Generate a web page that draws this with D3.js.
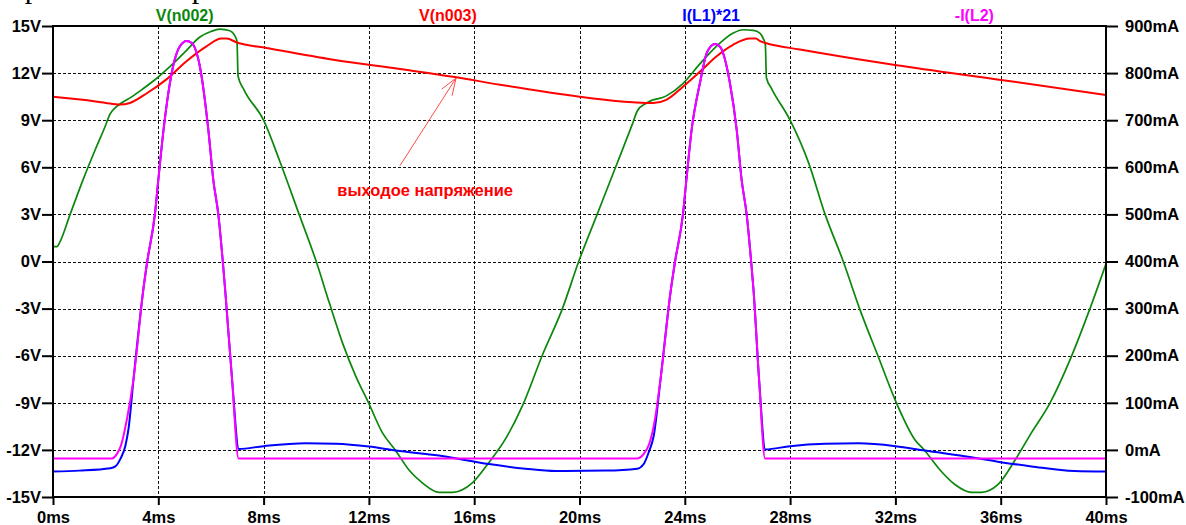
<!DOCTYPE html>
<html>
<head>
<meta charset="utf-8">
<script src="https://cdn.jsdelivr.net/npm/d3@7"></script>
<style>
body { margin: 0; background: #fff; }
text { font-family: "Liberation Sans", Arial, sans-serif; font-weight: bold; }
</style>
</head>
<body>
<div id="chart"></div>
<script>
// axis ticks
var timeTicks = [0, 4, 8, 12, 16, 20, 24, 28, 32, 36, 40];
var voltTicks = [-15, -12, -9, -6, -3, 0, 3, 6, 9, 12, 15];
var currTicks = [-100, 0, 100, 200, 300, 400, 500, 600, 700, 800, 900];

var traceNames = ["V(n002)", "V(n003)", "I(L1)*21", "-I(L2)"];
var traceColors = ["#0b870b", "#ff0000", "#0000ff", "#ff00ff"];

// V(n002), volts, left axis
var n002Time = [0, 0.15, 0.25, 0.65, 1.14, 1.6, 1.98, 2.17, 2.4, 2.6, 3.0, 3.42, 4.0, 4.56, 5.1, 5.58,
  6.0, 6.34, 6.72, 6.9, 6.99, 7.03, 7.25, 8.0, 8.59, 9.35, 10.0, 10.49, 11.0, 11.5, 12.0, 12.51,
  13.02, 13.53, 14.03, 14.66, 15.17, 15.93, 16.56, 17.19, 17.83, 18.58, 19.34, 19.97, 20.67, 21.37,
  22.02, 22.2, 22.55, 23.3, 23.94, 24.58, 25.2, 25.84, 26.22, 26.6, 26.85, 26.98, 27.06, 27.1, 27.3,
  28.0, 28.7, 29.33, 30.02, 30.65, 31.35, 32.05, 32.74, 33.12, 33.63, 34.26, 34.89, 35.27, 35.9,
  36.6, 37.17, 37.86, 38.68, 39.38, 40.0];
var n002Volt = [0.95, 0.95, 1.2, 3.0, 5.2, 7.1, 8.6, 9.4, 9.85, 10.1, 10.5, 11.0, 11.75, 12.6, 13.5, 14.3,
  14.65, 14.8, 14.7, 14.4, 14.0, 11.8, 10.95, 9.0, 6.5, 3.0, 0, -2.6, -5.2, -7.3, -9.05, -10.9,
  -12.05, -13.3, -14.1, -14.7, -14.7, -14.1, -12.8, -11.3, -9.2, -6.0, -3.05, 0, 3.0, 6.0,
  8.8, 9.6, 10.1, 10.55, 11.35, 12.6, 13.7, 14.55, 14.76, 14.72, 14.55, 14.2, 13.8, 11.7, 11.0,
  9.0, 6.3, 3.0, 0, -3.05, -6.07, -9.05, -11.35, -12.05, -13.15, -14.2, -14.7, -14.7, -14.2,
  -12.5, -10.9, -9.05, -6.07, -3.05, -0.15];

// V(n003), volts, left axis
var n003Time = [0, 1.14, 2.0, 2.55, 2.92, 3.55, 4.31, 5.07, 5.83, 6.4, 6.6, 6.98, 8.12, 10.65, 13.18,
  15.27, 16.98, 20.0, 22.03, 22.5, 22.8, 23.3, 23.94, 24.58, 25.2, 25.83, 26.47, 26.7, 26.86, 27.1,
  28.37, 32.05, 36.09, 40.0];
var n003Volt = [10.5, 10.3, 10.1, 10.0, 10.1, 10.7, 11.6, 12.75, 13.7, 14.2, 14.2, 13.95, 13.6, 12.85, 12.26,
  11.75, 11.26, 10.5, 10.14, 10.1, 10.1, 10.3, 11.15, 12.1, 13.06, 13.8, 14.2, 14.2, 14.03, 13.9,
  13.5, 12.5, 11.55, 10.6];

// I(L1)*21, mA, right axis
var iL1Time = [0, 1.0, 2.18, 2.37, 2.56, 2.75, 2.87, 3.06, 3.43, 3.58, 3.87, 4.0, 4.2, 4.56, 4.82, 5.08,
  5.27, 5.58, 5.9, 6.09, 6.28, 6.45, 6.54, 6.8, 7.06, 8.0, 9.6, 10.74, 12.0, 13.02, 14.66, 16.56,
  17.95, 19.09, 20.99, 22.19, 22.44, 22.63, 22.82, 23.08, 23.47, 23.63, 23.93, 24.06, 24.26, 24.58,
  24.85, 25.15, 25.35, 25.71, 25.97, 26.16, 26.35, 26.52, 26.61, 26.82, 27.06, 28.0, 29.33, 30.6,
  32.0, 33.12, 34.89, 36.0, 37.17, 38.8, 40.0];
var iL1Curr = [-46, -44, -39, -35, -19, 9, 45, 151, 340, 400, 500, 573, 680, 814, 857, 868,
  864, 814, 680, 573, 500, 400, 340, 151, 2, 8, 14, 13, 7, -1.4, -12, -30,
  -40, -45, -44, -40, -30, -5, 30, 151, 340, 400, 500, 573, 680, 780,
  845, 862, 855, 780, 680, 573, 500, 400, 340, 151, 1, 8, 13, 14,
  8, -1.4, -15.6, -26, -35, -45, -46];

// -I(L2), mA, right axis
var iL2Time = [0, 2.24, 2.43, 2.58, 2.81, 3.06, 3.43, 3.58, 3.87, 4.0, 4.2, 4.56, 4.82, 5.08,
  5.27, 5.58, 5.9, 6.09, 6.28, 6.45, 6.54, 6.8, 7.05, 22.2, 22.44, 22.65, 22.87, 23.08, 23.47,
  23.63, 23.93, 24.06, 24.26, 24.58, 24.85, 25.15, 25.35, 25.71, 25.97, 26.16, 26.35, 26.52,
  26.61, 26.82, 27.05, 40.0];
var iL2Curr = [-18, -18, -8.5, 9, 66, 151, 340, 400, 500, 573, 680, 814, 857, 868,
  864, 814, 680, 573, 500, 400, 340, 151, -18, -18, -8.5, 13, 66, 151, 340,
  400, 500, 573, 680, 780, 845, 862, 855, 780, 680, 573, 500, 400,
  340, 151, -18, -18];

// annotation (ms, V)
var noteText = "выходое напряжение";
var noteAt = [10.8, 4.2];
var arrowFrom = [13.18, 6.1];
var arrowTo = [15.31, 11.68];

function zip(a, b) {
  var arr = [];
  for (var i = 0; i < a.length; i++) {
    arr.push([a[i], b[i]]);
  }
  return arr;
}

function drawChart() {
  var width = 1186,
    height = 525,
    left = 53, right = 1106, top = 26, bottom = 497;

  var x = d3.scaleLinear().domain([0, 40]).range([left, right]);
  var yV = d3.scaleLinear().domain([-15, 15]).range([bottom, top]);
  var yI = d3.scaleLinear().domain([-100, 900]).range([bottom, top]);

  var svg = d3.select("#chart").append("svg")
    .attr("width", width)
    .attr("height", height)
    .style("background", "#fff");

  // bits of the text line above the picture, cut off in the original too
  svg.selectAll("text.cut")
    .data([24.7, 191.7])
    .enter().append("text")
      .attr("class", "cut")
      .attr("x", function(d) { return d; })
      .attr("y", -2)
      .style("font-family", "'Liberation Serif', 'Times New Roman', serif")
      .style("font-weight", "normal")
      .style("font-size", "30px")
      .text("р");

  // grid
  svg.append("g")
    .selectAll("line")
    .data(timeTicks.slice(1, -1))
    .enter().append("line")
      .attr("x1", function(d) { return Math.round(x(d)) + 0.5; })
      .attr("x2", function(d) { return Math.round(x(d)) + 0.5; })
      .attr("y1", top)
      .attr("y2", bottom)
      .style("stroke", "#111")
      .style("stroke-dasharray", "3,2");

  svg.append("g")
    .selectAll("line")
    .data(voltTicks.slice(1, -1))
    .enter().append("line")
      .attr("x1", left)
      .attr("x2", right)
      .attr("y1", function(d) { return Math.round(yV(d)) + 0.5; })
      .attr("y2", function(d) { return Math.round(yV(d)) + 0.5; })
      .style("stroke", "#111")
      .style("stroke-dasharray", "3,2");

  // axes
  var axisL = svg.append("g")
    .attr("transform", "translate(" + left + ",0)")
    .call(d3.axisLeft(yV).tickValues(voltTicks).tickSize(11).tickPadding(1)
      .tickFormat(function(d) { return d + "V"; }));

  var axisR = svg.append("g")
    .attr("transform", "translate(" + right + ",0)")
    .call(d3.axisRight(yI).tickValues(currTicks).tickSize(12).tickPadding(7)
      .tickFormat(function(d) { return d + "mA"; }));

  var axisB = svg.append("g")
    .attr("transform", "translate(0," + bottom + ")")
    .call(d3.axisBottom(x).tickValues(timeTicks).tickSize(8).tickPadding(6)
      .tickFormat(function(d) { return d + "ms"; }));

  [axisL, axisR, axisB].forEach(function(g) {
    g.select(".domain").remove();
    g.selectAll("line").style("stroke", "#000").style("stroke-width", 2);
    g.selectAll("text")
      .style("font-size", "16.5px")
      .style("font-family", "'Liberation Sans', Arial, sans-serif")
      .style("font-weight", "bold")
      .style("fill", "#000");
  });

  // traces
  svg.append("clipPath").attr("id", "plotClip")
    .append("rect")
      .attr("x", left).attr("y", top)
      .attr("width", right - left).attr("height", bottom - top);

  var lineV = d3.line()
    .x(function(d) { return x(d[0]); })
    .y(function(d) { return yV(d[1]); })
    .curve(d3.curveMonotoneX);
  var lineI = d3.line()
    .x(function(d) { return x(d[0]); })
    .y(function(d) { return yI(d[1]); })
    .curve(d3.curveMonotoneX);

  var traces = [
    {path: lineV(zip(n002Time, n002Volt)), w: 1.7},
    {path: lineV(zip(n003Time, n003Volt)), w: 2},
    {path: lineI(zip(iL1Time, iL1Curr)), w: 2},
    {path: lineI(zip(iL2Time, iL2Curr)), w: 2}
  ];

  var plot = svg.append("g").attr("clip-path", "url(#plotClip)");
  traces.forEach(function(tr, i) {
    plot.append("path")
      .attr("d", tr.path)
      .style("fill", "none")
      .style("stroke", traceColors[i])
      .style("stroke-width", tr.w)
      .style("stroke-linejoin", "round");
  });

  // frame
  svg.append("rect")
    .attr("x", left).attr("y", top)
    .attr("width", right - left).attr("height", bottom - top)
    .style("fill", "none")
    .style("stroke", "#000")
    .style("stroke-width", 2);

  // trace names above the plot
  var slot = (right - left) / traceNames.length;
  svg.selectAll("text.name")
    .data(traceNames)
    .enter().append("text")
      .attr("class", "name")
      .attr("x", function(d, i) { return left + slot * (i + 0.5); })
      .attr("y", 21)
      .attr("text-anchor", "middle")
      .style("font-size", "16px")
      .style("fill", function(d, i) { return traceColors[i]; })
      .text(function(d) { return d; });

  // annotation with arrow
  var x0 = x(arrowFrom[0]), y0 = yV(arrowFrom[1]),
    x1 = x(arrowTo[0]), y1 = yV(arrowTo[1]);
  var ang = Math.atan2(y0 - y1, x0 - x1),
    head = 18, spread = 20 * Math.PI / 180;

  var note = svg.append("g").style("stroke", "#ff4a4a").style("stroke-width", 1).style("fill", "none");
  note.append("line").attr("x1", x0).attr("y1", y0).attr("x2", x1).attr("y2", y1);
  [-spread, spread].forEach(function(s) {
    note.append("line")
      .attr("x1", x1).attr("y1", y1)
      .attr("x2", x1 + head * Math.cos(ang + s))
      .attr("y2", y1 + head * Math.sin(ang + s));
  });

  svg.append("text")
    .attr("x", x(noteAt[0]))
    .attr("y", yV(noteAt[1]))
    .style("font-size", "16.5px")
    .style("fill", "#ff0000")
    .text(noteText);
}

drawChart();
</script>
</body>
</html>
